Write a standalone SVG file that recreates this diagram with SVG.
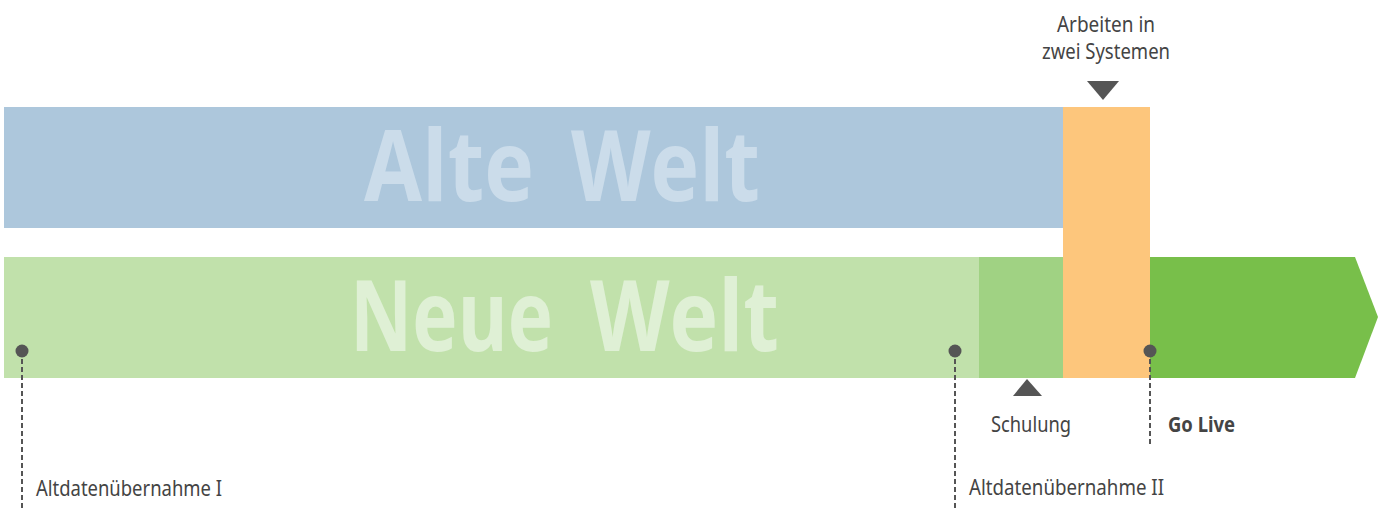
<svg xmlns="http://www.w3.org/2000/svg" width="1381" height="513" viewBox="0 0 1381 513">
<style>
.lbl{font-family:"Noto Sans","Open Sans","Liberation Sans",sans-serif;font-size:21px;fill:#444}
.big{font-family:"Open Sans","Noto Sans","Liberation Sans",sans-serif;font-size:98px;font-weight:bold}
.dash{stroke:#555;stroke-width:2;stroke-dasharray:5 3;fill:none}
.dot{fill:#555}
</style>
<rect width="1381" height="513" fill="#fff"/>
<g id="alte-welt">
<rect x="4" y="107" width="1059" height="121" fill="#adc7dc"/>
<text class="big" y="201" fill="#cbdcea"><tspan x="364" textLength="170" lengthAdjust="spacingAndGlyphs">Alte</tspan><tspan x="571" textLength="189" lengthAdjust="spacingAndGlyphs">Welt</tspan></text>
</g>
<g id="neue-welt">
<rect x="4" y="257" width="975" height="121" fill="#c1e1ab"/>
<text class="big" y="351" fill="#dff0d5"><tspan x="350" textLength="203" lengthAdjust="spacingAndGlyphs">Neue</tspan><tspan x="590" textLength="189" lengthAdjust="spacingAndGlyphs">Welt</tspan></text>
</g>
<g id="schulung-phase">
<rect x="979" y="257" width="84" height="121" fill="#a0d283"/>
</g>
<g id="go-live-phase">
<polygon points="1150,257 1355,257 1378,317 1355,378 1150,378" fill="#78bf4a"/>
</g>
<g id="zwei-systeme">
<rect x="1063" y="107" width="87" height="271" fill="#fdc67c"/>
<polygon points="1087,81 1119,81 1103,100" fill="#555"/>
<text class="lbl" x="1106" y="32" text-anchor="middle" textLength="98" lengthAdjust="spacingAndGlyphs">Arbeiten in</text>
<text class="lbl" x="1106" y="59" text-anchor="middle" textLength="128" lengthAdjust="spacingAndGlyphs">zwei Systemen</text>
</g>
<g id="connectors">
<line class="dash" x1="22" y1="351" x2="22" y2="508"/>
<line class="dash" x1="955" y1="351" x2="955" y2="508"/>
<line class="dash" x1="1150" y1="351" x2="1150" y2="445"/>
</g>
<g id="m-altdaten-1">
<circle class="dot" cx="22" cy="351" r="6.5"/>
<text class="lbl" x="36" y="496" textLength="186" lengthAdjust="spacingAndGlyphs">Altdatenübernahme I</text>
</g>
<g id="m-altdaten-2">
<circle class="dot" cx="955" cy="351" r="6.5"/>
<text class="lbl" x="969" y="495" textLength="195" lengthAdjust="spacingAndGlyphs">Altdatenübernahme II</text>
</g>
<g id="m-schulung">
<polygon points="1013,396 1042,396 1027,379" fill="#555"/>
<text class="lbl" x="991" y="432" textLength="80" lengthAdjust="spacingAndGlyphs">Schulung</text>
</g>
<g id="m-golive">
<circle class="dot" cx="1150" cy="351" r="6.5"/>
<text class="lbl" x="1168" y="432" font-weight="bold" textLength="67" lengthAdjust="spacingAndGlyphs">Go Live</text>
</g>
</svg>
